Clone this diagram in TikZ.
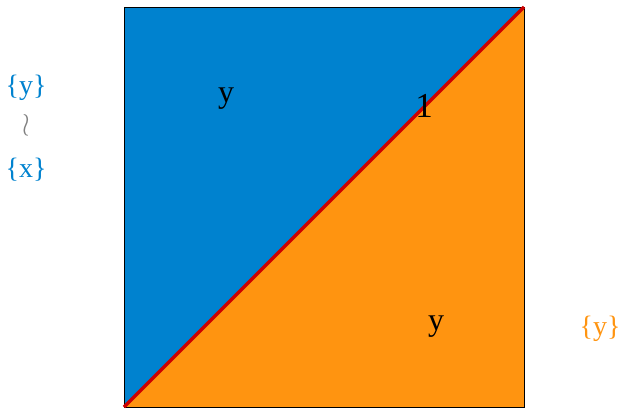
\documentclass[tikz,border=0pt]{standalone}
\usepackage{fontspec}
\setmainfont{Liberation Serif}
\usepackage{xcolor}
\definecolor{cblue}{HTML}{0082CF}
\definecolor{corange}{HTML}{FF9410}
\definecolor{cred}{HTML}{CC0000}
\begin{document}
\begin{tikzpicture}[x=1pt,y=-1pt,
  lbl/.style={inner sep=0pt,font=\fontsize{32}{36}\selectfont},
  side/.style={inner sep=0pt,font=\fontsize{28}{32}\selectfont}]
\useasboundingbox (0,0) rectangle (621,408);
\coordinate (tl) at (124,7);
\coordinate (tr) at (524,7);
\coordinate (bl) at (124,407);
\coordinate (br) at (524,407);
\fill[cblue] (bl) -- (tl) -- (tr) -- cycle;
\fill[corange] (bl) -- (br) -- (tr) -- cycle;
\draw[line width=1pt] (tl) rectangle (br);
\draw[cred,line width=3.5pt] (bl) -- (tr);
\node[lbl] (ya) at (226,99) {y};
\node[lbl,font=\fontsize{35}{38}\selectfont] (one) at (424,106) {1};
\node[lbl] (yb) at (436,327) {y};
\node[side,text=cblue] (ly) at (26,88) {\{y\}};
\node[inner sep=0pt,text=gray,font=\fontsize{24}{28}\selectfont] (wr) at (26,125) {\scalebox{1.1}[1.3]{$\wr$}};
\node[side,text=cblue] (lx) at (26,170) {\{x\}};
\node[side,text=corange] (ry) at (600,329) {\{y\}};
\end{tikzpicture}
\end{document}
